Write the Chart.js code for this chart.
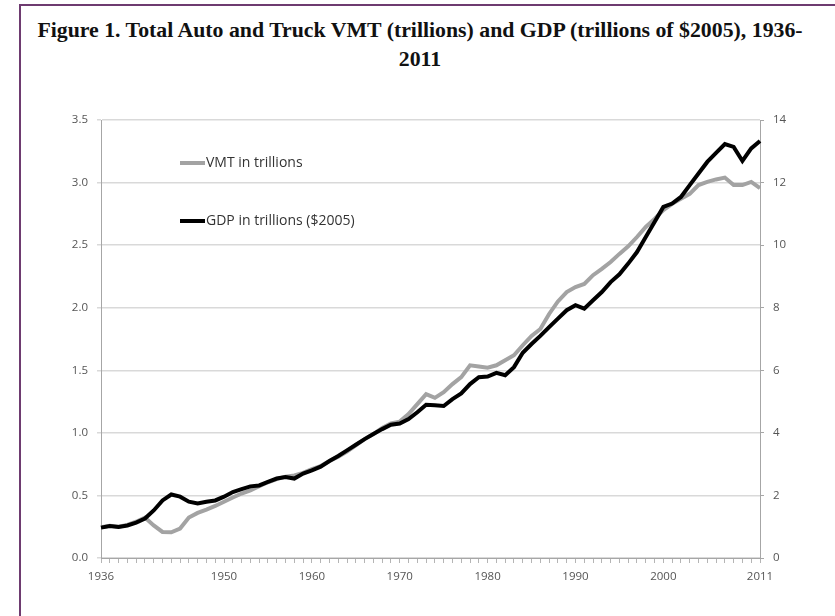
<!DOCTYPE html>
<html>
<head>
<meta charset="utf-8">
<script src="https://cdn.jsdelivr.net/npm/chart.js@4.4.1/dist/chart.umd.min.js"></script>
<style>
  html, body { margin: 0; padding: 0; background: #fff; }
  .container { position: relative; width: 835px; height: 616px; overflow: hidden; }
  .frame { position: absolute; left: 19px; top: 4px; width: 900px; height: 700px;
           border-top: 2px solid #6e3b70; border-left: 2px solid #6e3b70; }
  .title { position: absolute; left: 20px; top: 16px; width: 800px; text-align: center;
           font: bold 21.8px "Liberation Serif", "Times New Roman", serif; line-height: 29px; color: #111; }
  canvas { position: absolute; left: 0; top: 0; }
</style>
</head>
<body>
<div class="container">
  <div class="frame"></div>
  <div class="title">Figure 1. Total Auto and Truck VMT (trillions) and GDP (trillions of $2005), 1936-<br>2011</div>
  <canvas id="vmtChart" width="835" height="616"></canvas>
</div>
<script>
// Years on the category axis
const years = [
  '1936','1937','1938','1939','1940','1941','1942','1943','1944','1945',
  '1946','1947','1948','1949','1950','1951','1952','1953','1954','1955',
  '1956','1957','1958','1959','1960','1961','1962','1963','1964','1965',
  '1966','1967','1968','1969','1970','1971','1972','1973','1974','1975',
  '1976','1977','1978','1979','1980','1981','1982','1983','1984','1985',
  '1986','1987','1988','1989','1990','1991','1992','1993','1994','1995',
  '1996','1997','1998','1999','2000','2001','2002','2003','2004','2005',
  '2006','2007','2008','2009','2010','2011'
];
// only these years get a label under the axis
const labeledYears = ['1936', '1950', '1960', '1970', '1980', '1990', '2000', '2011'];

// VMT in trillions (left axis)
const vmt = [
  0.245, 0.258, 0.25, 0.265, 0.29, 0.323, 0.26, 0.208, 0.205, 0.235,
  0.323, 0.36, 0.387, 0.416, 0.45, 0.483, 0.515, 0.54, 0.573, 0.605,
  0.63, 0.65, 0.66, 0.68, 0.71, 0.735, 0.775, 0.81, 0.85, 0.90,
  0.95, 0.99, 1.04, 1.075, 1.09, 1.15, 1.23, 1.31, 1.28, 1.325,
  1.39, 1.445, 1.54, 1.53, 1.52, 1.54, 1.58, 1.62, 1.70, 1.775,
  1.83, 1.95, 2.05, 2.125, 2.165, 2.19, 2.26, 2.31, 2.365, 2.43,
  2.49, 2.565, 2.645, 2.71, 2.78, 2.83, 2.87, 2.91, 2.98, 3.005,
  3.025, 3.04, 2.98, 2.98, 3.005, 2.955
];

// GDP in trillions of 2005 dollars (right axis)
const gdp = [
  0.97, 1.02, 0.99, 1.04, 1.13, 1.26, 1.52, 1.84, 2.03, 1.96,
  1.80, 1.74, 1.80, 1.84, 1.96, 2.11, 2.20, 2.29, 2.32, 2.43,
  2.54, 2.59, 2.54, 2.70, 2.80, 2.92, 3.10, 3.26, 3.44, 3.62,
  3.80, 3.96, 4.12, 4.26, 4.30, 4.44, 4.66, 4.90, 4.88, 4.86,
  5.08, 5.26, 5.56, 5.78, 5.80, 5.92, 5.84, 6.10, 6.56, 6.84,
  7.10, 7.38, 7.65, 7.92, 8.08, 7.97, 8.24, 8.50, 8.82, 9.07,
  9.41, 9.78, 10.26, 10.74, 11.22, 11.33, 11.54, 11.92, 12.29, 12.66,
  12.95, 13.23, 13.14, 12.69, 13.09, 13.33
];

const tickFont = { family: '"Open Sans", "Liberation Sans", sans-serif', size: 11.5 };
const tickColor = '#555555';
const axisColor = '#a6a6a6';

// legend drawn inside the plot, upper left, like the Excel original
const insideLegend = {
  id: 'insideLegend',
  afterDatasetsDraw(chart) {
    const { ctx, chartArea } = chart;
    const rows = [43, 101];
    ctx.save();
    chart.data.datasets.forEach((ds, i) => {
      const y = chartArea.top + rows[i];
      const x0 = chartArea.left + 79;
      ctx.strokeStyle = ds.borderColor;
      ctx.lineWidth = 4;
      ctx.beginPath();
      ctx.moveTo(x0, y);
      ctx.lineTo(x0 + 25, y);
      ctx.stroke();
      ctx.fillStyle = '#333';
      ctx.font = '14px "Open Sans", "Liberation Sans", sans-serif';
      ctx.textBaseline = 'middle';
      ctx.fillText(ds.label, x0 + 26, y);
    });
    ctx.restore();
  }
};

new Chart(document.getElementById('vmtChart').getContext('2d'), {
  type: 'line',
  data: {
    labels: years,
    datasets: [{
      label: 'VMT in trillions',
      data: vmt,
      yAxisID: 'y',
      borderColor: '#a3a3a3',
      borderWidth: 4,
      pointRadius: 0,
      tension: 0,
      order: 2
    }, {
      label: 'GDP in trillions ($2005)',
      data: gdp,
      yAxisID: 'y1',
      borderColor: '#000000',
      borderWidth: 4,
      pointRadius: 0,
      tension: 0,
      order: 1
    }]
  },
  options: {
    responsive: false,
    animation: false,
    devicePixelRatio: 1,
    layout: { padding: { top: 120, left: 0, right: 0, bottom: 0 } },
    plugins: {
      legend: { display: false },
      tooltip: { enabled: false }
    },
    scales: {
      x: {
        offset: false,
        grid: { drawOnChartArea: false, tickLength: 5, color: '#b5b5b5' },
        border: { color: axisColor, width: 1 },
        ticks: {
          autoSkip: false, maxRotation: 0, padding: 7,
          font: tickFont, color: tickColor,
          callback: function (v, i) {
            const y = years[i];
            return labeledYears.includes(y) ? y : '';
          }
        },
        afterFit: s => { s.height = 58; }
      },
      y: {
        position: 'left',
        min: 0, max: 3.5,
        grid: { color: '#d9d9d9', lineWidth: 1.5, tickLength: 4 },
        border: { color: axisColor, width: 1 },
        ticks: {
          stepSize: 0.5, padding: 9, font: tickFont, color: tickColor,
          callback: v => v.toFixed(1)
        },
        afterFit: s => { s.width = 101; }
      },
      y1: {
        position: 'right',
        min: 0, max: 14,
        grid: { drawOnChartArea: false, tickLength: 4, color: axisColor },
        border: { color: axisColor, width: 1 },
        ticks: { stepSize: 2, padding: 9, font: tickFont, color: tickColor },
        afterFit: s => { s.width = 75; }
      }
    }
  },
  plugins: [insideLegend]
});
</script>
</body>
</html>
